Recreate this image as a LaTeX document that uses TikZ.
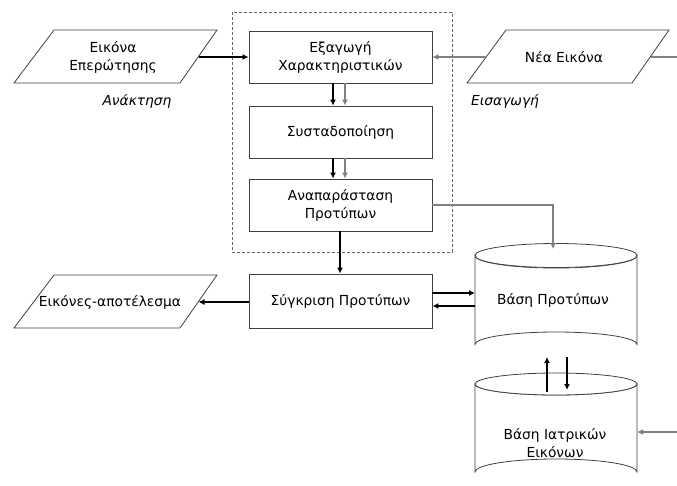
\documentclass[tikz,border=0pt]{standalone}
\usepackage{fontspec}
\setmainfont{DejaVu Sans}
\usetikzlibrary{arrows.meta}
\begin{document}
\begin{tikzpicture}[x=1pt,y=-1pt,
  txt/.style={font=\fontsize{13.8}{18}\selectfont, align=center, inner sep=0pt},
  proc/.style={txt, draw=black!75, fill=white, line width=0.8pt,
    minimum width=183pt, minimum height=52pt},
  io/.style={draw=black!75, fill=white, line width=0.8pt},
  note/.style={font=\fontsize{13.8}{16}\selectfont\itshape, inner sep=0pt},
  blk/.style={draw=black, line width=2pt, -{Latex[length=6pt,width=6pt]}},
  gry/.style={draw=black!50, line width=2pt, -{Latex[length=6pt,width=6pt]}},
  gryline/.style={draw=black!50, line width=2pt},
  db/.style={draw=black!75, fill=white, line width=0.8pt}]
\useasboundingbox (0,0) rectangle (677,485);

% feature-extraction group
\draw[black!60, dash pattern=on 3pt off 2pt, line width=0.7pt] (232,12) rectangle (452,252);

% processing steps
\node[proc] (extract) at (340.5,57) {Εξαγωγή\\Χαρακτηριστικών};
\node[proc] (cluster) at (340.5,132) {Συσταδοποίηση};
\node[proc] (repr)    at (340.5,205) {Αναπαράσταση\\Προτύπων};
\node[proc, minimum height=54pt] (compare) at (340.5,301) {Σύγκριση Προτύπων};

% input / output parallelograms
\draw[io] (54,30) -- (217,30) -- (180,83) -- (14,83) -- cycle;
\coordinate (query-e) at (198.5,57);
\node[txt] (query) at (113,57) {Εικόνα\\Επερώτησης};

\draw[io] (506,30) -- (669,30) -- (632,83) -- (467,83) -- cycle;
\coordinate (newimg-w) at (486.5,57);
\coordinate (newimg-e) at (650.5,57);
\coordinate (newimg-out) at (677,57);
\node[txt] (newimg) at (564,57) {Νέα Εικόνα};

\draw[io] (54,275) -- (217,275) -- (180,328) -- (14,328) -- cycle;
\coordinate (result-e) at (198.5,302);
\node[txt] (result) at (110,302) {Εικόνες-αποτέλεσμα};

\node[note] (retr) at (137,101) {Ανάκτηση};
\node[note] (ins)  at (505,101) {Εισαγωγή};

% pattern database cylinder
\draw[db] (475,255.5) -- (475,344.5) arc[start angle=180, end angle=360, x radius=81, y radius=12.5]
  -- (637,255.5) arc[start angle=0, end angle=180, x radius=81, y radius=12.5] -- cycle;
\draw[db] (556,255.5) ellipse[x radius=81, y radius=12];
\node[txt] (patdb) at (553,300) {Βάση Προτύπων};
\coordinate (patdb-top) at (553,249);
\coordinate (patdb-bot) at (556,357);

% medical image database cylinder
\draw[db] (475,384) -- (475,472) arc[start angle=180, end angle=360, x radius=81, y radius=13]
  -- (637,384) arc[start angle=0, end angle=180, x radius=81, y radius=11] -- cycle;
\draw[db] (556,384) ellipse[x radius=81, y radius=11];
\node[txt] (meddb) at (555,443) {Βάση Ιατρικών\\Εικόνων};
\coordinate (meddb-top) at (556,392);
\coordinate (meddb-e) at (637,432);
\coordinate (meddb-in) at (677,432);

% retrieval path (black)
\draw[blk] (query-e) -- (extract.west |- query-e);
\draw[blk] ([xshift=-7.5pt]extract.south) -- ([xshift=-7.5pt]cluster.north);
\draw[blk] ([xshift=-7.5pt]cluster.south) -- ([xshift=-7.5pt]repr.north);
\draw[blk] ([xshift=-0.5pt]repr.south) -- ([xshift=-0.5pt]compare.north);
\draw[blk] (compare.west |- result-e) -- (result-e);
\draw[blk] (compare.east |- 0,293) -- (475,293);
\draw[blk] (475,306) -- (compare.east |- 0,306);
\draw[blk] (meddb-top -| 547,0) -- (patdb-bot -| 547,0);
\draw[blk] (patdb-bot -| 567,0) -- (567,390);

% insertion path (grey)
\draw[gry] (newimg-w) -- (extract.east |- newimg-w);
\draw[gryline] (newimg-e) -- (newimg-out);
\draw[gry] ([xshift=4.5pt]extract.south) -- ([xshift=4.5pt]cluster.north);
\draw[gry] ([xshift=4.5pt]cluster.south) -- ([xshift=4.5pt]repr.north);
\draw[gry] (repr.east) -| (patdb-top);
\draw[gry] (meddb-in) -- (meddb-e);
\end{tikzpicture}
\end{document}
